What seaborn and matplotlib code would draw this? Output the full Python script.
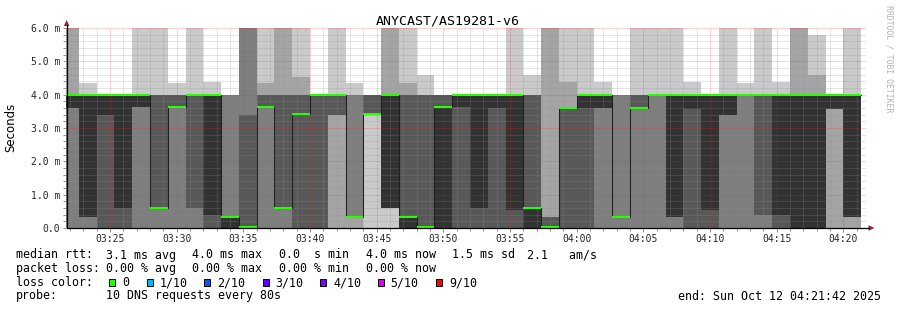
import numpy as np
import pandas as pd
import matplotlib
matplotlib.use("Agg")
import matplotlib.pyplot as plt
import seaborn as sns
from matplotlib.patches import Rectangle, Polygon
from matplotlib.lines import Line2D

sns.set_theme(style="white")
plt.rcParams['font.family'] = ['DejaVu Sans Mono', 'DejaVu Sans']

# ---------------- data (ms) : 10 sorted DNS pings per 80 s step -------------
# values of 6.0 mean ">= max" (drawn to the top of the graph)
ping_01 = [0, 0, 0, 0, 0, 0, 0, 0, 0, 0, 0, 0, 0, 0, 0, 0, 0, 0, 0, 0, 0, 0, 0,
           0, 0, 0, 0, 0, 0, 0, 0, 0, 0, 0, 0, 0, 0, 0, 0, 0, 0, 0, 0, 0, 0]
ping_02 = [0, 0, 0, 0, 0, 0, 0, 0, 0, 0, 0, 0, 0, 0, 0, 0, 0, 3.42, 0.59, 0, 0, 0, 0,
           0, 0, 0, 0, 0, 0, 0, 0, 0, 0, 0, 0, 0, 0, 0, 0, 0, 0, 0, 0, 0, 0]
ping_03 = [0, 0, 0, 0, 0, 0, 0, 0, 0, 0, 0, 0, 0, 0, 0, 3.39, 0.34, 3.42, 0.59, 0, 0, 0, 0,
           0, 0, 0, 0, 0, 0, 0, 0, 0, 0, 0, 0, 0, 0, 0, 0, 0, 0, 0, 0, 3.57, 0.34]
ping_04 = [3.59, 0.34, 0, 0, 3.64, 0.61, 3.64, 0.59, 0, 0, 0, 3.64, 0.59, 0, 0, 3.39, 0.34, 3.42, 0.59, 0, 0, 0, 0,
           0, 0, 0, 0, 0, 0, 0, 3.59, 0.34, 3.59, 4.0, 0.34, 0, 0, 3.39, 4.0, 0.39, 0, 0, 0, 3.57, 0.34]
ping_05 = [3.59, 0.34, 3.39, 0.59, 3.64, 0.61, 3.64, 4.0, 0.39, 0, 0, 3.64, 0.59, 3.42, 4.0, 4.0, 0.34, 3.42, 0.59, 0, 0, 0, 3.64,
           0.59, 3.59, 0.54, 0, 0.03, 3.59, 3.59, 3.59, 0.34, 3.59, 4.0, 0.34, 3.57, 0.54, 3.39, 4.0, 4.0, 0.39, 0, 0, 3.57, 0.34]
ping_06 = [4.0, 4.0, 4.0, 4.0, 4.0, 0.61, 3.64, 4.0, 4.0, 0.34, 0.03, 3.64, 0.59, 3.42, 4.0, 4.0, 0.34, 3.42, 4.0, 0.34, 0.03, 3.64, 4.0,
           4.0, 4.0, 4.0, 0.61, 0.03, 3.59, 4.0, 4.0, 0.34, 3.59, 4.0, 4.0, 4.0, 4.0, 4.0, 4.0, 4.0, 4.0, 4.0, 4.0, 4.0, 4.0]
ping_07 = [4.0, 4.0, 4.0, 4.0, 4.0, 4.0, 4.0, 4.0, 4.0, 0.34, 3.39, 4.0, 4.0, 4.0, 4.0, 4.0, 0.34, 4.0, 4.0, 4.0, 4.0, 4.0, 4.0,
           4.0, 4.0, 4.0, 4.0, 0.34, 3.59, 4.0, 4.0, 0.34, 4.0, 4.0, 4.0, 4.0, 4.0, 4.0, 4.0, 4.0, 4.0, 4.0, 4.0, 4.0, 4.0]
ping_08 = [4.0, 4.0, 4.0, 4.0, 4.0, 4.0, 4.0, 4.0, 4.0, 4.0, 6.0, 4.0, 4.0, 4.0, 4.0, 4.0, 4.0, 4.0, 4.0, 4.0, 4.0, 4.0, 4.0,
           4.0, 4.0, 4.0, 4.0, 0.34, 3.59, 4.0, 4.0, 4.0, 4.0, 4.0, 4.0, 4.0, 4.0, 4.0, 4.0, 4.0, 4.0, 4.0, 4.0, 4.0, 4.0]
ping_09 = [6.0, 4.0, 4.0, 4.0, 4.0, 4.0, 4.0, 4.0, 4.0, 4.0, 6.0, 4.36, 6.0, 4.54, 4.0, 4.0, 4.0, 4.0, 6.0, 4.34, 4.0, 4.0, 4.0,
           4.0, 4.0, 4.0, 4.0, 6.0, 4.38, 4.0, 4.0, 4.0, 4.0, 4.0, 4.0, 4.0, 4.0, 4.0, 4.0, 4.0, 4.0, 6.0, 4.59, 4.0, 4.0]
ping_10 = [6.0, 4.36, 4.0, 4.0, 6.0, 6.0, 4.36, 6.0, 4.38, 4.0, 6.0, 6.0, 6.0, 6.0, 4.0, 6.0, 4.34, 4.0, 6.0, 6.0, 4.6, 4.0, 4.0,
           4.0, 4.0, 6.0, 4.6, 6.0, 6.0, 6.0, 4.38, 4.0, 6.0, 6.0, 6.0, 4.39, 4.0, 6.0, 4.34, 6.0, 4.39, 6.0, 5.79, 4.0, 6.0]

# time axis (seconds after 03:00:00)
graph_start = 21 * 60 + 42          # 03:21:42
graph_end = 81 * 60 + 42            # 04:21:42
first_full_step = 22 * 60 + 40      # 03:22:40
STEP = 80
tick_times = [25, 30, 35, 40, 45, 50, 55, 60, 65, 70, 75, 80]   # minutes after 03:00
tick_labels = ["03:25", "03:30", "03:35", "03:40", "03:45", "03:50",
               "03:55", "04:00", "04:05", "04:10", "04:15", "04:20"]
y_ticks = [0, 1, 2, 3, 4, 5, 6]
y_labels = ["0.0", "1.0 m", "2.0 m", "3.0 m", "4.0 m", "5.0 m", "6.0 m"]

loss_names = ["0", "1/10", "2/10", "3/10", "4/10", "5/10", "9/10"]
loss_colors = ["#26ff00", "#00b8ff", "#0059ff", "#5e00ff", "#7e00ff", "#dd00ff", "#ff0000"]

# --------------------------------------------------------------------------
pings = np.array([ping_01, ping_02, ping_03, ping_04, ping_05,
                  ping_06, ping_07, ping_08, ping_09, ping_10], dtype=float)
n = pings.shape[1]
starts = np.array([first_full_step - STEP + i * STEP for i in range(n)], dtype=float)
median = pings[5]

W, H = 897, 310
L, R, B, TOP = 66, 866, 228, 28
fig = plt.figure(figsize=(W / 100, H / 100), dpi=100)
fig.patch.set_facecolor("white")
ax = fig.add_axes([L / W, 1 - B / H, (R - L) / W, (B - TOP) / H])
ax.set_facecolor("white")
for s in ax.spines.values():
    s.set_visible(False)

# smoke (SmokePing style)
smoke = ["#cacaca", "#a4a4a4", "#7e7e7e", "#585858", "#323232"]
for b in range(5):
    lo = pings[b]
    hi = pings[9 - b]
    ax.bar(starts, hi - lo, bottom=lo, width=STEP, align="edge", color=smoke[b],
           linewidth=0, antialiased=False, zorder=1)

# grid
ax.set_xlim(graph_start, graph_end)
ax.set_ylim(0, 6.0)
for v in np.arange(0.2, 6.0, 0.2):
    if abs(v - round(v)) > 1e-6:
        ax.axhline(v, color="#8f8f8f", alpha=0.45, lw=0.72, ls=(0, (1, 1)), zorder=1.5)
for v in range(1, 7):
    ax.axhline(v, color="#ff2020", alpha=0.4, lw=0.72, ls=(0, (1, 1)), zorder=1.6)
for m in range(22, 82):
    if m % 5:
        ax.axvline(m * 60, color="#8f8f8f", alpha=0.45, lw=0.72, ls=(0, (1, 1)), zorder=1.5)
for m in tick_times:
    ax.axvline(m * 60, color="#ff2020", alpha=0.4, lw=0.72, ls=(0, (1, 1)), zorder=1.6)

# median line (dark step line)
med_df = pd.DataFrame({"t": np.append(starts, starts[-1] + STEP),
                       "ms": np.append(median, median[-1])})
sns.lineplot(data=med_df, x="t", y="ms", drawstyle="steps-post", color="#202020",
             lw=0.75, estimator=None, sort=False, ax=ax, zorder=2)

# loss-colored median band
sw = 0.03
ax.bar(starts, 2 * sw, bottom=median - sw, width=STEP, align="edge",
       color=loss_colors[0], linewidth=0, antialiased=False, zorder=3)

ax.set_xlabel("")
ax.set_ylabel("")
ax.set_xticks([m * 60 for m in tick_times])
ax.set_xticklabels(tick_labels, fontsize=7, family="DejaVu Sans Mono")
ax.set_xticks([m * 60 for m in range(22, 82)], minor=True)
ax.set_yticks(y_ticks)
ax.set_yticklabels(y_labels, fontsize=7, family="DejaVu Sans Mono")
ax.set_yticks(np.arange(0, 6.01, 0.2), minor=True)
ax.tick_params(axis="both", which="both", bottom=True, left=True, direction="out",
               color="#909090", width=0.7)
ax.tick_params(axis="x", which="major", length=3, pad=1.5)
ax.tick_params(axis="x", which="minor", length=2)
ax.tick_params(axis="y", which="major", length=2, pad=2.3)
ax.tick_params(axis="y", which="minor", length=2)

# ---------------- overlay in pixel coordinates -----------------------------
oax = fig.add_axes([0, 0, 1, 1])
oax.set_xlim(0, W)
oax.set_ylim(H, 0)
oax.axis("off")

# axes lines + arrows
oax.add_line(Line2D([66.5, 869], [228, 228], color="black", lw=0.9))
oax.add_line(Line2D([66.5, 66.5], [228, 25], color="black", lw=0.9))
arrow_c = "#8b2a2a"
oax.add_patch(Polygon([(63.8, 26), (69.4, 26), (66.6, 20)], closed=True, color=arrow_c, lw=0))
oax.add_patch(Polygon([(868.5, 225.2), (868.5, 230.8), (874.5, 228)], closed=True, color=arrow_c, lw=0))

# title, axis label, credit
oax.text(448, 25, "ANYCAST/AS19281-v6", fontsize=9.5, ha="center", va="baseline",
         family="DejaVu Sans Mono", color="black")
oax.text(11, 127, "Seconds", rotation=90, fontsize=8.5, ha="center", va="center",
         family="DejaVu Sans", color="black")
oax.text(888.5, 59, "RRDTOOL / TOBI OETIKER", rotation=270, fontsize=5.9, ha="center",
         va="center", family="DejaVu Sans Mono", color="#b4b4b4")

fs = 8.4


def put(x, y, s, ha="left"):
    oax.text(x, y, s, fontsize=fs, family="DejaVu Sans Mono", ha=ha, va="baseline", color="black")


y1, y2, y3, y4 = 258.5, 272, 286, 299.5
put(15.5, y1, "median rtt:")
put(106.5, y1, "3.1 ms avg")
put(192.5, y1, "4.0 ms max")
put(279, y1, "0.0  s min")
put(365.5, y1, "4.0 ms now")
put(451.5, y1, "1.5 ms sd")
put(527, y1, "2.1   am/s")

put(15.5, y2, "packet loss:")
put(106.5, y2, "0.00 % avg")
put(192.5, y2, "0.00 % max")
put(279, y2, "0.00 % min")
put(365.5, y2, "0.00 % now")

put(15.5, y3, "loss color:")
box_x = [108.5, 146.5, 203.5, 262.5, 319.5, 377.5, 435.5]
text_x = [122.5, 160, 217, 275.5, 333, 390.5, 449.5]
for bx, tx, nm, c in zip(box_x, text_x, loss_names, loss_colors):
    oax.add_patch(Rectangle((bx, 279), 6.5, 6.8, facecolor=c, edgecolor="black", lw=0.7))
    put(tx, y3, nm)

put(15.5, y4, "probe:")
put(106.5, y4, "10 DNS requests every 80s")
put(880.5, y4, "end: Sun Oct 12 04:21:42 2025", ha="right")

fig.savefig("out.png", dpi=100, facecolor="white")
